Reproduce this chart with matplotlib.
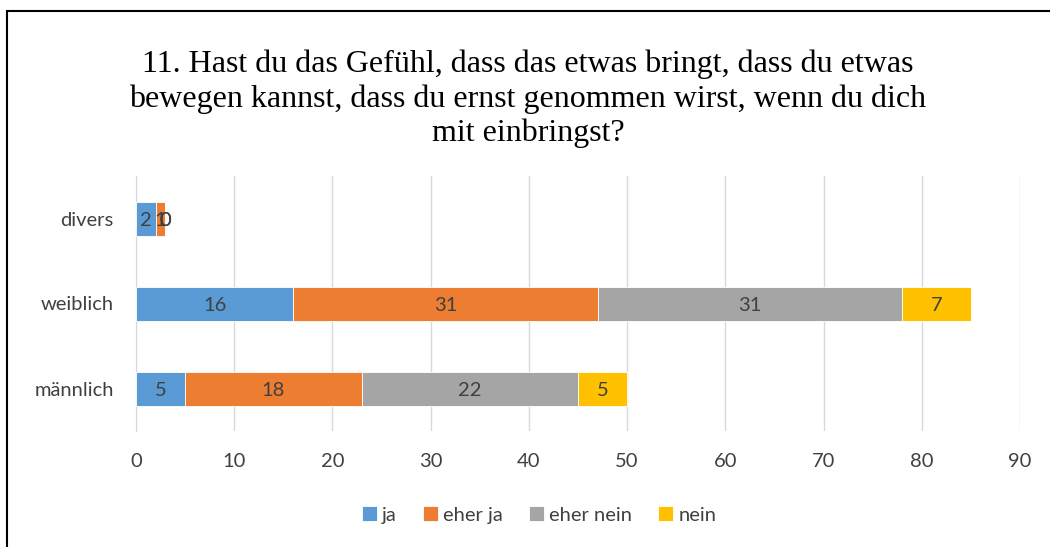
import matplotlib
matplotlib.use("Agg")
import matplotlib.pyplot as plt
from matplotlib.patches import Rectangle
import numpy as np

categories = ["männlich", "weiblich", "divers"]
series_names = ["ja", "eher ja", "eher nein", "nein"]
ja = [5, 16, 2]
eher_ja = [18, 31, 1]
eher_nein = [22, 31, 0]
nein = [5, 7, 0]
x_ticks = [0, 10, 20, 30, 40, 50, 60, 70, 80, 90]
title = ("11. Hast du das Gefühl, dass das etwas bringt, dass du etwas\n"
         "bewegen kannst, dass du ernst genommen wirst, wenn du dich\n"
         "mit einbringst?")

colors = ["#5B9BD5", "#ED7D31", "#A5A5A5", "#FFC000"]
text_color = "#404040"
sans = ["Lato", "DejaVu Sans"]
fs = 14.5

fig = plt.figure(figsize=(10.5, 5.47), dpi=100)
ax = fig.add_axes([136/1050, 1-431/547, (1020-136)/1050, (431-176)/547])

y = np.arange(len(categories))
left = np.zeros(len(categories))
for name, vals, c in zip(series_names, [ja, eher_ja, eher_nein, nein], colors):
    vals = np.array(vals, dtype=float)
    ax.barh(y, vals, left=left, height=0.4, color=c, label=name,
            edgecolor="white", linewidth=0.6, zorder=3)
    for yi, l, v in zip(y, left, vals):
        ax.text(l + v/2, yi - 0.02, f"{int(v)}", ha="center", va="center",
                color=text_color, fontsize=fs, family=sans, zorder=4)
    left += vals

ax.set_xlim(0, 90)
ax.set_ylim(-0.5, 2.5)
ax.set_xticks(x_ticks)
ax.set_yticks(y)
ax.set_yticklabels(categories)
ax.grid(axis="x", color="#D9D9D9", linewidth=1, zorder=0)
ax.set_axisbelow(True)
for s in ["top", "right", "bottom"]:
    ax.spines[s].set_visible(False)
ax.spines["left"].set_color("#D9D9D9")
ax.tick_params(axis="both", length=0, labelsize=fs, labelcolor=text_color)
ax.tick_params(axis="x", pad=16)
ax.tick_params(axis="y", pad=16)
for lab in ax.get_xticklabels() + ax.get_yticklabels():
    lab.set_family(sans)

fig.text(528/1050, 1-99/547, title, ha="center", va="center",
         fontsize=23, family=["Liberation Serif", "DejaVu Serif"],
         linespacing=1.22, color="black")

handles, labels = ax.get_legend_handles_labels()
leg = fig.legend(handles, labels, loc="center", bbox_to_anchor=(539/1050, 1-515/547),
                 ncol=4, frameon=False, handlelength=0.75, handleheight=0.75,
                 handletextpad=0.25, columnspacing=1.3,
                 prop={"family": sans, "size": fs})
for t in leg.get_texts():
    t.set_color(text_color)

fig.patches.append(Rectangle((7/1050, -0.1), 1.2, 1-11/547 + 0.1,
                             transform=fig.transFigure, fill=False,
                             edgecolor="black", linewidth=1.5))

fig.savefig("out.png", dpi=100)
